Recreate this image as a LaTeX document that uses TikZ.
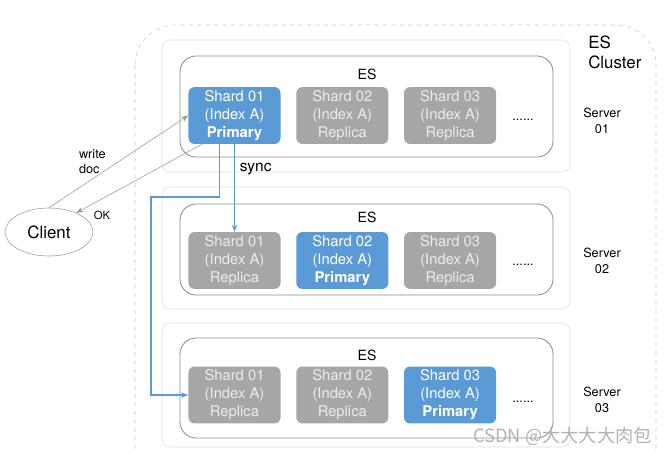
\documentclass[tikz,border=0pt]{standalone}
\usepackage{fontspec}
\setsansfont{TeX Gyre Heros}
\newfontfamily\cjkfont{Noto Sans CJK SC}
\usepackage{tikz}
\usetikzlibrary{positioning,shapes.geometric}
\usetikzlibrary{arrows.meta}
\definecolor{shardblue}{RGB}{91,155,213}
\definecolor{shardgray}{RGB}{166,166,166}
\definecolor{shardtext}{RGB}{236,236,236}

\begin{document}
\begin{tikzpicture}[x=0.025cm,y=-0.025cm,font=\sffamily,
        cluster/.style={draw=black!22,dashed,rounded corners=1cm},
        server/.style={draw=black!13,rounded corners=2mm},
        esbox/.style={draw=black!45,line width=0.6pt,rounded corners=4mm},
        shard/.style={rounded corners=1.5mm,minimum width=2.3cm,minimum height=1.42cm,
        inner sep=0pt,align=center,font=\sffamily\fontsize{10.5}{12.8}\selectfont,text=shardtext},
        primary/.style={shard,fill=shardblue,text=white},
        replica/.style={shard,fill=shardgray},
        link/.style={draw=black!40,-{Stealth[length=5pt]}},
        sync/.style={draw=shardblue,line width=0.8pt,-{Stealth[length=5pt]}}]

        \useasboundingbox (0,0) rectangle (671,453);

        % Cluster
        \draw[cluster] (135,25) rectangle (656,490);
        \node[anchor=north west,align=left,inner sep=0pt,font=\sffamily\large] (cl) at (588,36) {ES\\Cluster};

        % Server 01
        \draw[server] (162,40) rectangle (570,172);
        \draw[esbox] (180,56) rectangle (553,157);
        \node (es1) at (367,74) {ES};
        \node[primary] (s11) at (234.5,115.5) {Shard 01\\(Index A)\\\textbf{Primary}};
        \node[replica,right=0.38cm of s11] (s12) {Shard 02\\(Index A)\\Replica};
        \node[replica,right=0.38cm of s12] (s13) {Shard 03\\(Index A)\\Replica};
        \node[anchor=base,font=\sffamily\small] (d1) at (523,121) {......};
        \node[align=center,font=\sffamily\small] (sv1) at (602,121) {Server\\01};

        % Server 02
        \draw[server] (162,187) rectangle (570,309);
        \draw[esbox] (180,204) rectangle (553,295);
        \node (es2) at (367,217) {ES};
        \node[replica] (s21) at (234.5,260.5) {Shard 01\\(Index A)\\Replica};
        \node[primary,right=0.38cm of s21] (s22) {Shard 02\\(Index A)\\\textbf{Primary}};
        \node[replica,right=0.38cm of s22] (s23) {Shard 03\\(Index A)\\Replica};
        \node[anchor=base,font=\sffamily\small] (d2) at (523,265) {......};
        \node[align=center,font=\sffamily\small] (sv2) at (602,261) {Server\\02};

        % Server 03
        \draw[server] (162,323) rectangle (570,447);
        \draw[esbox] (180,338) rectangle (553,438);
        \node (es3) at (367,355) {ES};
        \node[replica] (s31) at (234.5,395) {Shard 01\\(Index A)\\Replica};
        \node[replica,right=0.38cm of s31] (s32) {Shard 02\\(Index A)\\Replica};
        \node[primary,right=0.38cm of s32] (s33) {Shard 03\\(Index A)\\\textbf{Primary}};
        \node[anchor=base,font=\sffamily\small] (d3) at (523,402) {......};
        \node[align=center,font=\sffamily\small] (sv3) at (602,400) {Server\\03};

        % Client
        \node[draw=black!40,ellipse,minimum width=2.2cm,minimum height=1.2cm,font=\sffamily\large] (client) at (49,232) {Client};

        \draw[link] (client.north) -- (s11.west) node[midway,left=2mm,align=left,font=\sffamily\small]{write\\doc};
        \draw[link] ([xshift=0.35cm]s11.south west) -- (client.35) node[pos=0.9,below right,font=\sffamily\footnotesize]{OK};

        % sync
        \coordinate (bend) at (151,197);
        \draw[sync] ([xshift=-0.38cm]s11.south) |- (bend) |- (s31.west);
        \draw[sync] (s11.south) -- (s21.north) node[pos=0.28,right,font=\sffamily\fontsize{11}{13}\selectfont]{sync};

        \node[anchor=east,text=black!30,font=\cjkfont\fontsize{13}{13}\selectfont] (wm) at (657,436) {CSDN @大大大大肉包};

\end{tikzpicture}
\end{document}
